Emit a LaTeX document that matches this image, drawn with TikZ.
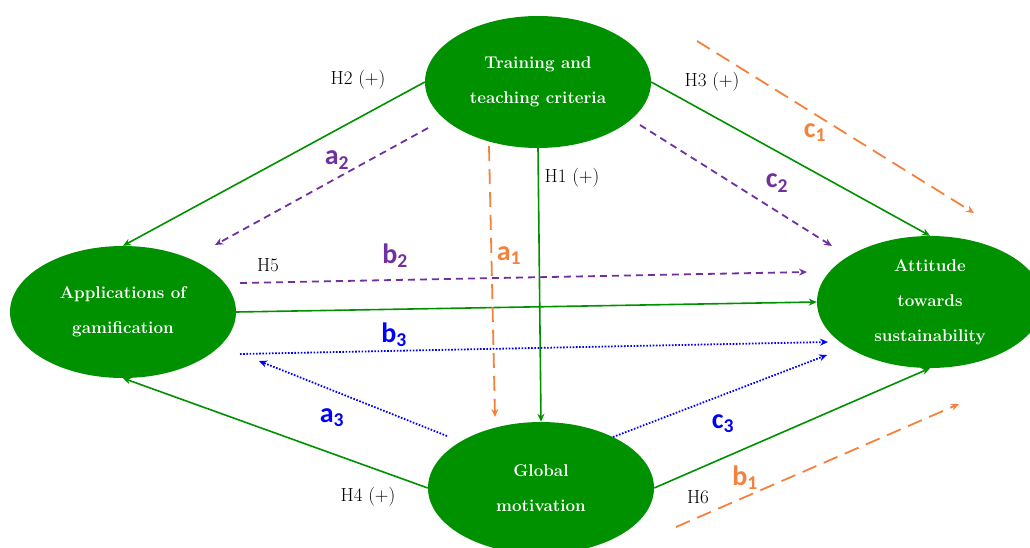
\documentclass[tikz,border=0pt]{standalone}
\usepackage{fontspec}
\newfontfamily\lblfont{Carlito}
\usetikzlibrary{shapes.geometric,arrows.meta}
\definecolor{ggreen}{RGB}{0,145,0}
\definecolor{gpurple}{RGB}{112,48,160}
\definecolor{gorange}{RGB}{244,130,60}
\definecolor{gblue}{RGB}{0,0,255}
\begin{document}
\begin{tikzpicture}[x=1pt,y=-1pt,
  var/.style={ellipse, fill=ggreen, text=white, inner sep=0pt, align=center,
    minimum width=226pt, minimum height=132pt,
    font=\bfseries\fontsize{17}{35}\selectfont},
  hyp/.style={draw=ggreen, line width=1.6pt, -{Stealth[length=8pt,width=7pt]}},
  pdash/.style={draw=gpurple, line width=1.8pt, dash pattern=on 7pt off 5pt, -{Stealth[length=8pt,width=7pt]}},
  odash/.style={draw=gorange, line width=1.8pt, dash pattern=on 15pt off 8pt, -{Stealth[length=8pt,width=7pt]}},
  bdot/.style={draw=gblue, line width=1.8pt, dash pattern=on 1.6pt off 1.6pt, -{Stealth[length=8pt,width=7pt]}},
  hlab/.style={text=black, font=\fontsize{19}{21}\selectfont},
  sublab/.style={font=\lblfont\bfseries\fontsize{28}{30}\selectfont},
]
\useasboundingbox (0,0) rectangle (1030,548);
\clip (0,0) rectangle (1030,548);
\fill[white] (0,0) rectangle (1030,548);

\node[var] (tr) at (538,82) {Training and\\teaching criteria};
\node[var] (app) at (123,312) {Applications of\\gamification};
\node[var] (att) at (930,302) {Attitude\\towards\\sustainability};
\node[var] (glob) at (541,488) {Global\\motivation};

% hypotheses (green)
\draw[hyp] (tr.west) -- (app.north);
\draw[hyp] (tr.east) -- (att.north);
\draw[hyp] (tr.south) -- (glob.north);
\draw[hyp] (app.east) -- (att.west);
\draw[hyp] (glob.west) -- (app.south);
\draw[hyp] (glob.east) -- (att.south);

% free coordinates for mediation arrows
\coordinate (a2s) at (428,128); \coordinate (a2e) at (215,245);
\coordinate (c2s) at (640,125); \coordinate (c2e) at (832,246);
\coordinate (b2s) at (240,283); \coordinate (b2e) at (807,272);
\coordinate (a1s) at (489,146); \coordinate (a1e) at (495,417);
\coordinate (c1s) at (697,41);  \coordinate (c1e) at (974,213);
\coordinate (b1s) at (676,527); \coordinate (b1e) at (959,404);
\coordinate (b3s) at (240,354); \coordinate (b3e) at (828,342);
\coordinate (a3s) at (447,436); \coordinate (a3e) at (259,361);
\coordinate (c3s) at (613,437); \coordinate (c3e) at (827,355);

\draw[pdash] (a2s) -- (a2e);
\draw[pdash] (c2s) -- (c2e);
\draw[pdash] (b2s) -- (b2e);
\draw[odash] (a1s) -- (a1e);
\draw[odash] (c1s) -- (c1e);
\draw[odash] (b1s) -- (b1e);
\draw[bdot] (b3s) -- (b3e);
\draw[bdot] (a3s) -- (a3e);
\draw[bdot] (c3s) -- (c3e);

% hypothesis labels
\node[hlab] (lh2) at (358,80) {H2 (+)};
\node[hlab] (lh3) at (712,82) {H3 (+)};
\node[hlab] (lh1) at (572,178) {H1 (+)};
\node[hlab] (lh5) at (268,265) {H5};
\node[hlab] (lh4) at (368,497) {H4 (+)};
\node[hlab] (lh6) at (698,497) {H6};

% path labels
\node[sublab, text=gpurple] (la2) at (337,160) {a\textsubscript{2}};
\node[sublab, text=gpurple] (lc2) at (777,183) {c\textsubscript{2}};
\node[sublab, text=gpurple] (lb2) at (395,256) {b\textsubscript{2}};
\node[sublab, text=gorange] (la1) at (509,256) {a\textsubscript{1}};
\node[sublab, text=gorange] (lc1) at (815,133) {c\textsubscript{1}};
\node[sublab, text=gorange] (lb1) at (745,478) {b\textsubscript{1}};
\node[sublab, text=gblue] (lb3) at (394,335) {b\textsubscript{3}};
\node[sublab, text=gblue] (la3) at (332,418) {a\textsubscript{3}};
\node[sublab, text=gblue] (lc3) at (723,424) {c\textsubscript{3}};
\end{tikzpicture}
\end{document}
